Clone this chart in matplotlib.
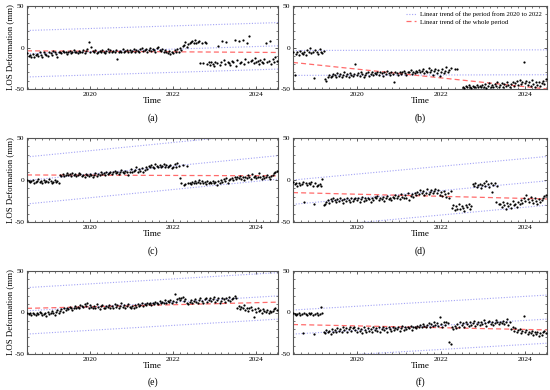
import numpy as np
import pandas as pd
import matplotlib
matplotlib.use("Agg")
import matplotlib.pyplot as plt
import matplotlib.dates as mdates

plt.rcParams['font.family'] = ['Liberation Serif', 'DejaVu Serif']
plt.rcParams['axes.unicode_minus'] = False

nan = np.nan
# acquisition schedule (12-day revisit)
dates = pd.date_range('2018-06-27', periods=184, freq='12D')

series_a = [
    -7,-10,-9,-11,-8,-12,-9,-8,-10,-6,-9,-11,-6,-8,-9,
    -10,-5,-7,-9,-4,-6,-8,-12,-5,-6,-7,-4,-6,-5,-8,
    -6,-4,-7,-5,-3,-6,-5,-7,-4,-6,-5,-3,-7,-4,-2,
    7,-5,1,-4,-6,-3,-7,-5,-4,-6,-3,-5,-7,-4,-2,
    -5,-3,-6,-4,-5,-3,-14,-6,-4,-5,-2,-6,-4,-3,-5,
    -3,-6,-4,-2,-5,-3,-4,-5,-2,-1,-4,-3,-2,-5,-3,
    -1,-4,-2,-3,-5,-1,1,-3,-4,-2,-5,-3,-6,-7,-4,
    -8,-5,-7,-3,-6,-2,-5,0,-3,2,3,7,1,4,6,
    7,8,5,9,6,7,8,-19,6,-19,7,5,-20,-18,-21,
    -18,-20,-22,-17,-19,2,-21,-18,8,-15,-20,7,-17,-19,-21,
    -16,-18,9,-22,-15,8,-19,-17,9,-20,-14,6,-18,14,-16,
    -15,-19,-13,-18,-16,-20,-15,-17,-19,-14,6,-18,-16,8,-20,
    -14,-17,-12,-16,
]
series_b = [
    -5,-33,-8,-6,-9,-4,-7,-8,-5,-9,-3,-6,-1,-7,-5,
    -37,-3,-6,-8,-2,-5,-7,-4,-38,-40,-35,-33,-36,-34,-32,
    -33,-35,-31,-34,-32,-36,-33,-30,-34,-32,-35,-31,-33,-34,-32,
    -20,-33,-31,-34,-30,-32,-35,-33,-31,-29,-34,-32,-30,-33,-31,
    -32,-30,-33,-29,-31,-34,-30,-32,-28,-31,-33,-30,-32,-41,-30,
    -31,-33,-29,-32,-30,-28,-31,-33,-29,-30,-27,-32,-29,-31,-28,
    -29,-27,-30,-28,-26,-31,-28,-29,-25,-30,-27,-33,-28,-26,-31,
    -27,-34,-29,-26,-31,-28,-24,-30,-27,-25,nan,nan,-26,nan,-26,
    nan,nan,nan,-47,-49,-46,-48,-45,-47,-49,-46,-48,-47,-45,-48,
    -46,-48,-45,-47,-44,-49,-46,-43,-47,-45,-48,-44,-46,-42,-47,
    -45,-43,-47,-44,-46,-42,-45,-48,-44,-41,-46,-43,-40,-45,-39,
    -44,-41,-17,-43,-40,-45,-42,-46,-39,-44,-47,-42,-45,-41,-46,
    -43,-40,-44,-38,
]
series_c = [
    0,-1,-2,-1,0,-3,-2,-1,1,-2,-1,-3,0,-2,-1,
    -2,1,-1,-3,-2,0,-2,-1,-3,6,5,7,5,6,8,
    6,7,5,8,6,7,5,6,8,7,5,6,4,7,6,
    5,7,6,4,6,8,5,7,6,9,7,8,6,9,7,
    8,10,7,9,11,8,10,7,9,12,10,8,11,9,6,
    10,13,9,11,12,16,10,13,11,14,9,12,15,13,17,
    15,18,16,14,19,17,15,18,16,17,19,15,18,16,17,
    18,14,16,19,15,20,17,2,-4,18,-6,-5,17,-3,-4,
    -5,-2,-3,-1,-4,-2,0,-3,-1,-4,-2,-5,-1,-3,-2,
    -3,-1,-4,-2,-6,-1,-3,0,-2,1,-1,2,-3,0,1,
    2,0,3,1,4,2,5,1,3,0,4,2,6,3,1,
    7,3,5,2,4,8,3,1,5,2,4,6,3,1,5,
    6,8,10,11,
]
series_d = [
    -2,-5,-4,-7,-3,-6,-5,-2,-26,-4,-6,-3,-5,-2,-7,
    -29,-4,-7,-6,-5,-7,1,-30,-28,-26,-24,-27,-23,-25,-22,
    -24,-26,-23,-25,-22,-24,-27,-23,-25,-21,-24,-26,-22,-25,-23,
    -21,-24,-22,-26,-23,-20,-25,-22,-24,-21,-23,-26,-22,-24,-20,
    -22,-19,-24,-21,-23,-20,-25,-22,-19,-23,-21,-24,-20,-22,-18,
    -21,-19,-23,-17,-20,-22,-18,-21,-16,-24,-19,-17,-20,-15,-18,
    -14,-17,-12,-16,-13,-18,-15,-11,-17,-14,-12,-16,-13,-11,-15,
    -12,-18,-14,-19,-13,-17,-20,-15,-21,-13,-33,-30,-36,-31,-34,
    -29,-35,-31,-33,-37,-30,-32,-29,-34,-31,-5,-7,-4,-8,-6,
    -5,-9,-6,-3,-7,-1,-5,-8,-4,-14,-6,-3,-26,-7,-29,
    -28,-32,-26,-30,-34,-27,-31,-29,-33,-25,-30,-28,-32,-26,-29,
    -24,-27,-21,-25,-18,-23,-26,-20,-24,-27,-22,-25,-28,-23,-26,
    -24,-21,-19,-18,
]
series_e = [
    -1,-2,0,-3,-1,-2,-3,0,-2,1,-1,-3,-2,0,-4,
    1,-2,-1,2,0,-3,1,3,-1,2,4,1,5,3,6,
    4,7,5,3,6,8,5,7,6,9,8,7,10,8,11,
    6,9,7,5,8,6,10,7,4,8,9,6,5,8,7,
    9,6,8,5,10,7,9,6,8,11,7,9,6,8,10,
    7,5,8,6,9,7,10,8,9,11,8,10,9,12,10,
    11,9,12,10,13,11,10,14,12,13,11,15,12,14,13,
    15,12,14,22,13,16,18,15,17,19,14,16,11,10,13,
    15,12,14,16,13,11,15,17,14,12,16,18,13,15,17,
    14,16,19,13,15,17,12,14,18,16,13,17,15,19,14,
    16,18,20,17,6,8,4,7,5,9,3,6,2,5,7,
    3,-5,4,1,5,2,3,0,4,2,1,3,0,2,1,
    2,4,5,3,
]
series_f = [
    -1,-2,-3,-2,-1,-3,-2,-25,-1,-2,-3,0,-2,-1,-3,
    -26,-2,-1,-3,-2,7,-1,-23,-25,-21,-24,-22,-26,-20,-23,
    -21,-24,-19,-22,-20,-23,-18,-21,-19,-24,-20,-17,-22,-19,-18,
    -21,-24,-19,-22,-20,-25,-18,-21,-23,-19,-22,-20,-24,-18,-21,
    -19,-22,-17,-24,-20,-18,-21,-19,-23,-17,-20,-22,-18,-21,-19,
    -20,-17,-22,-19,-16,-21,-18,-20,-17,-19,-16,-21,-18,-17,-19,
    -16,-18,-15,-17,-14,-16,-18,-15,-13,-17,-14,-16,-12,-15,-13,
    -16,-6,-14,-17,-12,-15,-11,-13,-36,-38,-18,-20,-16,-19,-14,
    -17,-12,-15,-13,-18,-11,-14,-16,-12,-15,-13,-10,-16,-14,-12,
    -15,-11,-14,-9,-13,-16,-12,-10,-14,-11,-15,-13,-9,-12,-14,
    -11,-13,-10,-14,-12,-8,-15,-11,-20,-17,-22,-19,-24,-21,-20,
    -25,-22,-4,-24,-21,-26,-23,-25,-22,-27,-24,-26,-23,-28,-25,
    -27,-24,-22,-25,
]

panel_labels = ['(a)', '(b)', '(c)', '(d)', '(e)', '(f)']
series = [series_a, series_b, series_c, series_d, series_e, series_f]
# 2020-2022 linear trend: value at start / end of the time axis, and band offset
blue_start = [-7.5, -33.6, -0.5, -29, 2, -26]
blue_end = [2, -32.8, 29, -1, 20, -8]
blue_offset = [28, 30, 28, 29, 28, 29]
# whole-period linear trend
red_start = [-4, -18, 6, -15, 5, -14.5]
red_end = [-6, -50, 5, -22.6, 12.5, -21]

xlim = [pd.Timestamp('2018-06-24'), pd.Timestamp('2024-07-12')]

W, H = 550, 390
fig = plt.figure(figsize=(5.5, 3.9), dpi=100)

col_x = [(27, 278), (293, 547)]
row_y = [(6, 89), (138, 222), (271, 354)]
lab_y = [118, 251, 382]

blue_c = '#a3a3f5'
red_c = '#ff6b6b'

for k in range(6):
    r, c = divmod(k, 2)
    x0, x1 = col_x[c]
    y0, y1 = row_y[r]
    ax = fig.add_axes([x0 / W, 1 - y1 / H, (x1 - x0) / W, (y1 - y0) / H])
    for off in (-blue_offset[k], 0, blue_offset[k]):
        ax.plot(xlim, [blue_start[k] + off, blue_end[k] + off], color=blue_c,
                ls=(0, (1, 1.5)), lw=0.8, zorder=1,
                label='Linear trend of the period from 2020 to 2022' if off == 0 else None)
    ax.plot(xlim, [red_start[k], red_end[k]], color=red_c, ls=(0, (4, 2.5)), lw=0.9,
            zorder=2, label='Linear trend of the whole period')
    ax.plot(dates, series[k], 'o', color='black', ms=1.6, mew=0, zorder=3)
    ax.set_xlim(xlim)
    ax.set_ylim(-50, 50)
    ax.set_yticks([-50, 0, 50])
    ax.set_yticks(np.arange(-50, 51, 10), minor=True)
    ax.xaxis.set_major_locator(mdates.YearLocator(2, month=1, day=1))
    ax.xaxis.set_minor_locator(mdates.MonthLocator(bymonth=[1, 3, 5, 7, 9, 11]))
    ax.xaxis.set_major_formatter(mdates.DateFormatter('%Y'))
    ax.tick_params(which='both', direction='in', top=True, right=True,
                   labelsize=5.4, pad=2, color='#444444')
    ax.tick_params(which='major', length=2.5, width=0.6)
    ax.tick_params(which='minor', length=1.3, width=0.5)
    for s in ax.spines.values():
        s.set_linewidth(0.8)
        s.set_color('#555555')
    ax.set_xlabel('Time', fontsize=6.6, labelpad=0.5)
    if c == 0:
        ax.set_ylabel('LOS Deformation (mm)', fontsize=6.3, labelpad=0)
    if k == 1:
        ax.legend(loc='upper right', fontsize=4.9, frameon=False, handlelength=1.6,
                  handletextpad=0.5, borderaxespad=0.4, labelspacing=0.25)
    fig.text((x0 + x1) / 2 / W, 1 - lab_y[r] / H, panel_labels[k], ha='center',
             va='center', fontsize=7)

fig.savefig('out.png', dpi=100)
